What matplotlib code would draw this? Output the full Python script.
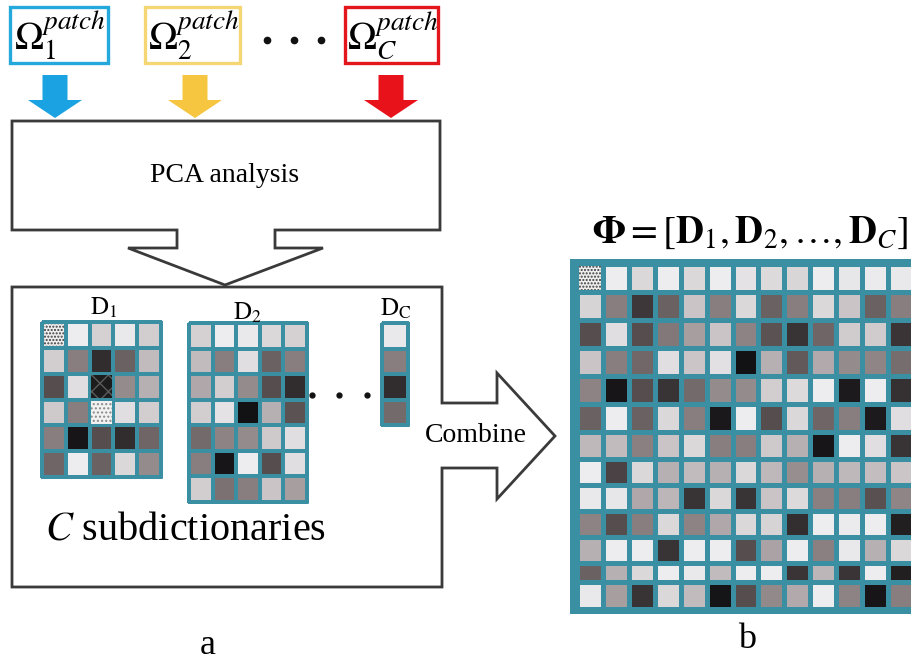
import numpy as np
import matplotlib
matplotlib.use("Agg")
import matplotlib.pyplot as plt
from matplotlib.patches import Polygon, Rectangle, FancyArrow
from matplotlib.colors import LinearSegmentedColormap

plt.rcParams['font.family'] = ['Liberation Serif', 'DejaVu Serif']
plt.rcParams['mathtext.fontset'] = 'stix'
plt.rcParams['hatch.linewidth'] = 1.0

# ---- atom intensities (0 = black, 1 = white) ----
d1_values = [
    [0.55, 0.95, 0.82, 0.93, 0.80],
    [0.80, 0.50, 0.15, 0.38, 0.72],
    [0.30, 0.88, 0.15, 0.55, 0.68],
    [0.78, 0.50, 0.90, 0.88, 0.80],
    [0.50, 0.05, 0.30, 0.15, 0.40],
    [0.40, 0.95, 0.38, 0.85, 0.55],
]
d2_values = [
    [0.82, 0.95, 0.93, 0.85, 0.82],
    [0.72, 0.50, 0.88, 0.38, 0.50],
    [0.65, 0.80, 0.55, 0.30, 0.15],
    [0.80, 0.90, 0.03, 0.68, 0.32],
    [0.42, 0.52, 0.55, 0.78, 0.88],
    [0.50, 0.05, 0.95, 0.30, 0.88],
    [0.80, 0.45, 0.50, 0.75, 0.62],
]
dc_values = [[0.93], [0.50], [0.15], [0.42]]
phi_values = [
    [0.55, 0.95, 0.85, 0.95, 0.85, 0.95, 0.90, 0.86, 0.84, 0.95, 0.92, 0.94, 0.93],
    [0.83, 0.50, 0.20, 0.38, 0.75, 0.50, 0.85, 0.38, 0.50, 0.85, 0.75, 0.38, 0.50],
    [0.30, 0.88, 0.30, 0.48, 0.62, 0.75, 0.52, 0.32, 0.18, 0.40, 0.79, 0.79, 0.19],
    [0.75, 0.50, 0.41, 0.88, 0.76, 0.89, 0.03, 0.68, 0.35, 0.66, 0.55, 0.53, 0.43],
    [0.52, 0.05, 0.30, 0.18, 0.42, 0.55, 0.55, 0.80, 0.86, 0.95, 0.07, 0.95, 0.17],
    [0.38, 0.95, 0.38, 0.85, 0.50, 0.06, 0.95, 0.30, 0.85, 0.40, 0.50, 0.07, 0.88],
    [0.71, 0.72, 0.51, 0.75, 0.85, 0.50, 0.50, 0.78, 0.68, 0.05, 0.95, 0.88, 0.18],
    [0.95, 0.25, 0.85, 0.68, 0.72, 0.68, 0.85, 0.71, 0.56, 0.68, 0.71, 0.73, 0.76],
    [0.93, 0.92, 0.65, 0.70, 0.18, 0.85, 0.18, 0.75, 0.86, 0.51, 0.50, 0.31, 0.53],
    [0.52, 0.30, 0.50, 0.85, 0.52, 0.65, 0.85, 0.83, 0.16, 0.95, 0.94, 0.95, 0.09],
    [0.68, 0.95, 0.95, 0.18, 0.95, 0.95, 0.30, 0.63, 0.95, 0.51, 0.93, 0.68, 0.85],
    [0.38, 0.68, 0.85, 0.95, 0.93, 0.72, 0.95, 0.95, 0.19, 0.70, 0.19, 0.95, 0.09],
    [0.93, 0.62, 0.18, 0.85, 0.72, 0.04, 0.30, 0.54, 0.66, 0.95, 0.52, 0.05, 0.50],
]
# textured atoms: (row, col) -> (hatch, face, hatch colour)
d1_textures = {(0, 0): ('.....', '#eeeeee', '#3c3c3c'),
               (2, 2): ('xx', '#1c1c1c', '#5a5a5a'),
               (3, 2): ('....', '#f2f2f2', '#8a8a8a')}
phi_textures = {(0, 0): ('.....', '#eeeeee', '#3c3c3c')}

patch_labels = [r'$\Omega_1^{patch}$', r'$\Omega_2^{patch}$', r'$\Omega_C^{patch}$']
patch_colors = ['#25a8dc', '#f5d675', '#e2161c']
arrow_colors = ['#1aa2e2', '#f6c640', '#e8121a']

atom_cmap = LinearSegmentedColormap.from_list(
    'atoms', ['#0b0b0d', '#4a4244', '#877d7f', '#c9c3c5', '#f5f6f8'])
TEAL = '#3a8fa3'
LINE = '#3a3a3a'

fig = plt.figure(figsize=(9.12, 6.63), dpi=100)
ax = fig.add_axes([0, 0, 1, 1])
ax.set_xlim(0, 912)
ax.set_ylim(663, 0)
ax.axis('off')


def draw_grid(values, xedges, yedges, textures=None, lw=1.6):
    vals = np.asarray(values, dtype=float)
    ax.pcolormesh(xedges, yedges, vals, cmap=atom_cmap, vmin=0, vmax=1,
                  edgecolors=TEAL, linewidth=lw, zorder=3)
    ax.add_patch(Rectangle((xedges[0], yedges[0]), xedges[-1] - xedges[0],
                           yedges[-1] - yedges[0], fill=False, ec=TEAL,
                           lw=lw * 1.2, zorder=4))
    for (r, c), (h, face, hc) in (textures or {}).items():
        inset = 1.6
        ax.add_patch(Rectangle((xedges[c] + inset, yedges[r] + inset),
                               xedges[c + 1] - xedges[c] - 2 * inset,
                               yedges[r + 1] - yedges[r] - 2 * inset,
                               facecolor=face, edgecolor=hc, hatch=h, lw=0,
                               zorder=5))


# ---- top: patch sets and arrows ----
box_x = [(10, 108), (145, 240), (345, 438)]
for (x0, x1), lab, col, acol in zip(box_x, patch_labels, patch_colors, arrow_colors):
    ax.add_patch(Rectangle((x0, 7), x1 - x0, 56, fill=False, ec=col, lw=2.4, zorder=2))
    ax.text((x0 + x1) / 2 + 1, 36, lab, fontsize=28, ha='center', va='center', zorder=3)
ax.plot([267, 294, 321], [40, 40, 40], 'o', color='#111111', ms=4.5)

for cx, acol in zip([55, 195, 391], arrow_colors):
    ax.add_patch(FancyArrow(cx, 75, 0, 43, width=25, head_width=54, head_length=18,
                            length_includes_head=True, color=acol, lw=0))

# ---- PCA block with downward arrow ----
pca_shape = [(12, 121), (440, 121), (440, 230), (275, 230), (275, 248), (323, 248),
             (225, 285), (128, 248), (177, 248), (177, 230), (12, 230)]
ax.add_patch(Polygon(pca_shape, closed=True, fill=False, ec=LINE, lw=2.0, joinstyle='miter'))
ax.text(225, 176, 'PCA analysis', fontsize=20, ha='center', va='center')

# ---- sub-dictionary block with "Combine" arrow ----
sub_shape = [(12, 287), (442, 287), (442, 403), (497, 403), (497, 373), (555, 436),
             (497, 499), (497, 468), (442, 468), (442, 587), (12, 587)]
ax.add_patch(Polygon(sub_shape, closed=True, fill=False, ec=LINE, lw=2.0, joinstyle='miter'))
ax.text(476, 436, 'Combine', fontsize=20, ha='center', va='center')
ax.text(186, 530, r'$C$ subdictionaries', fontsize=29, ha='center', va='center')

draw_grid(d1_values, np.linspace(42, 161, 6), np.linspace(322, 477, 7), d1_textures)
draw_grid(d2_values, np.linspace(189, 307, 6), np.linspace(323, 502, 8))
draw_grid(dc_values, np.linspace(382, 408, 2), np.linspace(323, 425, 5))
ax.text(104, 308, r'$\mathrm{D}_1$', fontsize=18, ha='center', va='center')
ax.text(247, 313, r'$\mathrm{D}_2$', fontsize=18, ha='center', va='center')
ax.text(396, 309, r'$\mathrm{D}_\mathrm{C}$', fontsize=18, ha='center', va='center')
ax.plot([312, 339, 367], [395, 395, 395], 'o', color='#111111', ms=3.5)

# ---- combined dictionary ----
ax.add_patch(Rectangle((570, 259), 360, 355, facecolor=TEAL, ec='none', zorder=2))
phi_x = np.linspace(577, 914, 14)
phi_y = [264, 292, 320, 348, 376, 404, 432, 458.5, 484.5, 510.5, 536.5, 563, 581.5, 609]
draw_grid(phi_values, phi_x, phi_y, phi_textures, lw=2.2)
ax.text(750, 233, r'$\mathbf{\Phi}=[\mathbf{D}_1,\mathbf{D}_2,\ldots,\mathbf{D}_C]$',
        fontsize=28, ha='center', va='center')

ax.text(208, 645, 'a', fontsize=26, ha='center', va='center')
ax.text(747, 639, 'b', fontsize=26, ha='center', va='center')

fig.savefig('out.png', dpi=100)
